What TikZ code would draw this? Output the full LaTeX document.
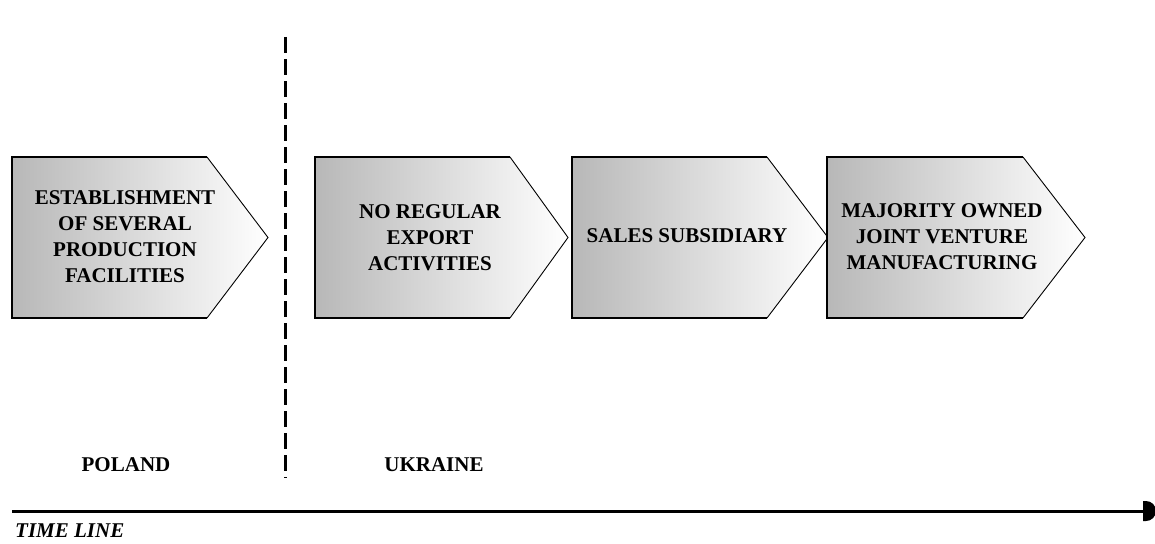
\documentclass[tikz,border=0pt]{standalone}
\usepackage{fontspec}
\setmainfont{Liberation Serif}
\begin{document}
\begin{tikzpicture}[x=1pt,y=-1pt,
  stagetext/.style={font=\bfseries\fontsize{21}{26}\selectfont, align=center, inner sep=0pt},
  countrytext/.style={font=\bfseries\fontsize{21}{26}\selectfont, inner sep=0pt},
  stagefill/.style={left color=black!28, right color=white},
  stageedge/.style={line width=2pt},
  stagepoint/.style={line width=0.9pt},
  divider/.style={line width=3pt, dash pattern=on 16pt off 6pt},
  axis/.style={line width=3pt}]
\useasboundingbox (0,0) rectangle (1155,543);

% pentagon arrow: #1 left edge, #2 shoulder, #3 tip
\newcommand\stagearrow[3]{%
  \path[stagefill] (#1,157) -- (#2,157) -- (#3,237.5) -- (#2,318) -- (#1,318) -- cycle;
  \draw[stageedge] (#2,157) -- (#1,157) -- (#1,318) -- (#2,318);
  \draw[stagepoint] (#2,157) -- (#3,237.5) -- (#2,318);
}

\stagearrow{12}{207}{268}
\stagearrow{315}{510}{568}
\stagearrow{572}{767}{828}
\stagearrow{827}{1023}{1085}

\node[stagetext] (s1) at (125,237) {ESTABLISHMENT\\OF SEVERAL\\PRODUCTION\\FACILITIES};
\node[stagetext] (s2) at (430,238) {NO REGULAR\\EXPORT\\ACTIVITIES};
\node[stagetext] (s3) at (687,236) {SALES SUBSIDIARY};
\node[stagetext] (s4) at (942,237) {MAJORITY OWNED\\JOINT VENTURE\\MANUFACTURING};

% country divider
\coordinate (divtop) at (285,37);
\coordinate (divbot) at (285,478);
\draw[divider] (divtop) -- (divbot);

\node[countrytext] (poland) at (126,465) {POLAND};
\node[countrytext] (ukraine) at (434,465) {UKRAINE};

% time axis
\coordinate (tl0) at (12,511);
\coordinate (tl1) at (1145,511);
\draw[axis] (tl0) -- (tl1);
\fill (1143,501) -- (1146,501) arc[start angle=-90, end angle=90, radius=10] -- (1143,521) -- cycle;
\node[countrytext, font=\bfseries\itshape\fontsize{21}{26}\selectfont, anchor=west] (timeline) at (15,531) {TIME LINE};
\end{tikzpicture}
\end{document}
